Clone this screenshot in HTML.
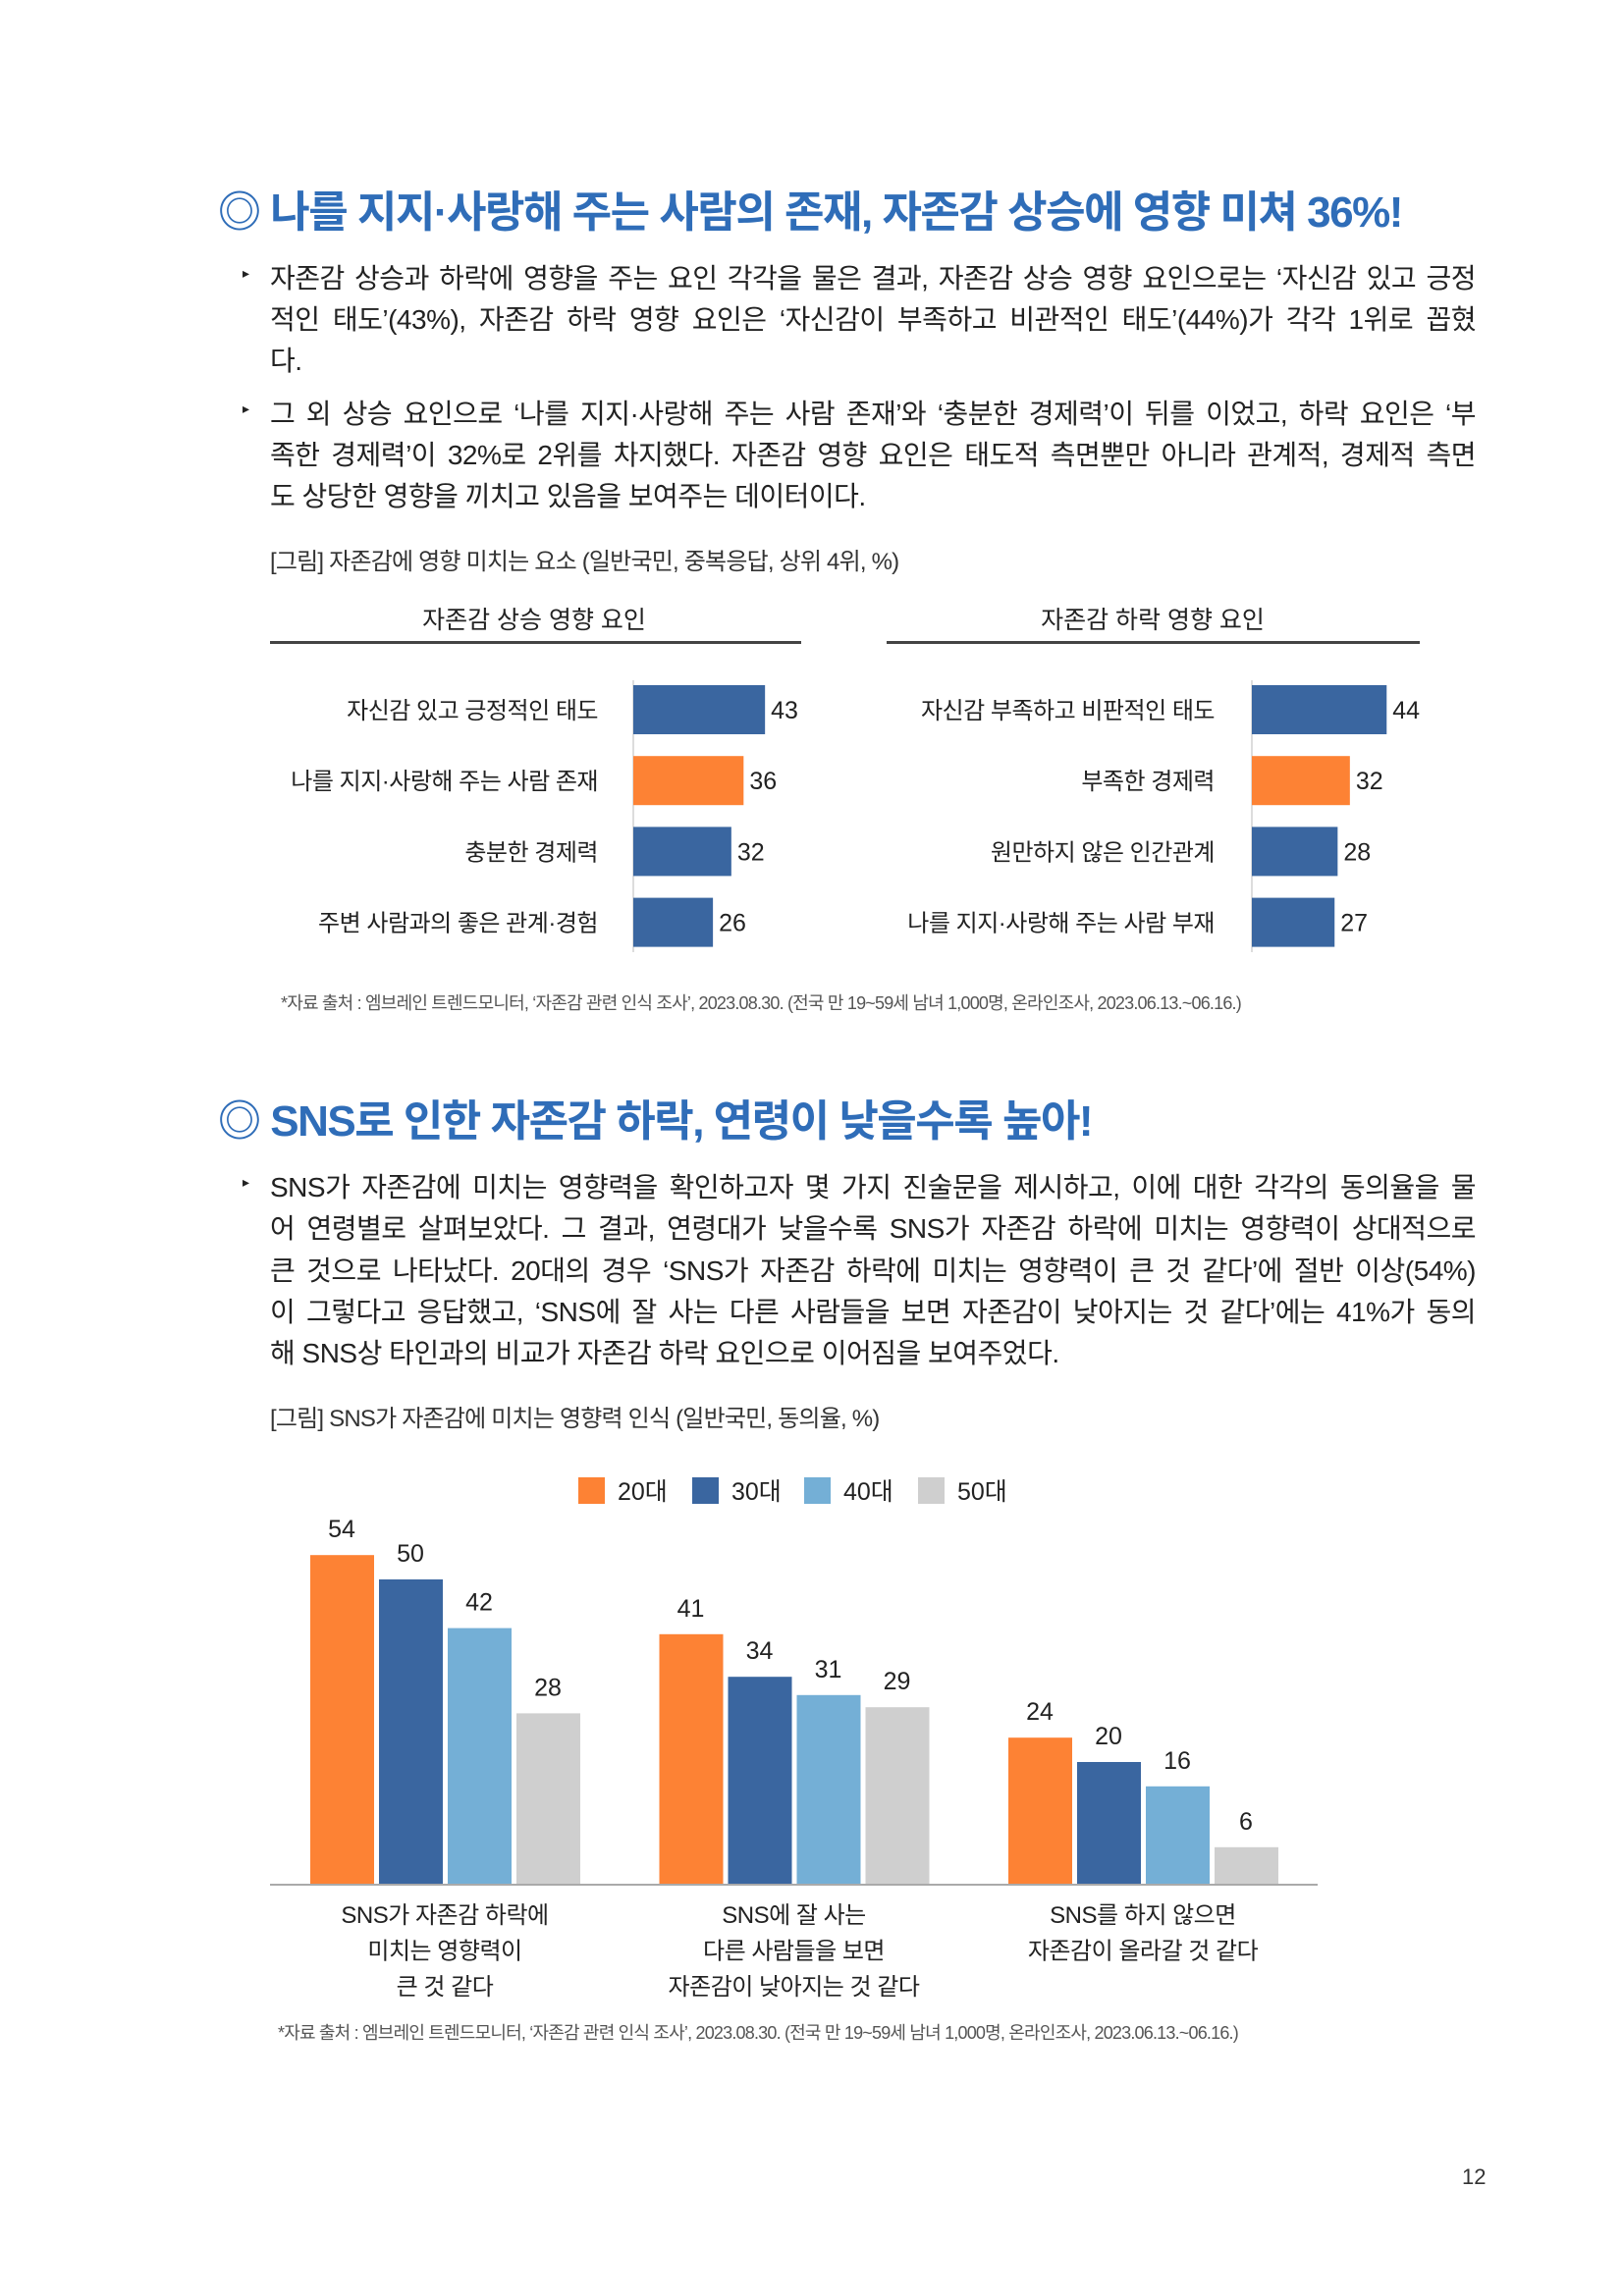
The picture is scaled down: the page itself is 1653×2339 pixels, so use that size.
<!DOCTYPE html>
<html><head><meta charset="utf-8">
<style>
body{margin:0;background:#fff;}
#page{position:relative;width:1653px;height:2339px;background:#fff;font-family:"Liberation Sans","Noto Sans CJK KR",sans-serif;color:#222;overflow:hidden;}
.t{position:absolute;white-space:nowrap;}
.title{font-size:44px;font-weight:bold;color:#2f6db8;left:222px;letter-spacing:-1.5px;}
.ln{position:absolute;left:275px;width:1228px;font-size:28px;white-space:nowrap;text-align:justify;text-align-last:justify;letter-spacing:-0.5px;}
.ln.last{text-align-last:left;}
.bul{position:absolute;left:247px;font-size:14px;}
.cap{position:absolute;left:275px;font-size:24px;letter-spacing:-0.8px;color:#333;}
.src{position:absolute;font-size:18px;color:#555;letter-spacing:-0.8px;white-space:nowrap;}
svg text{font-family:"Liberation Sans","Noto Sans CJK KR",sans-serif;}
</style></head>
<body>
<div id="page">
<div class="t title" style="top:180px">◎ 나를 지지·사랑해 주는 사람의 존재, 자존감 상승에 영향 미쳐 36%!</div>

<div class="bul" style="top:270px">▸</div>
<div class="ln" style="top:262px">자존감 상승과 하락에 영향을 주는 요인 각각을 물은 결과, 자존감 상승 영향 요인으로는 ‘자신감 있고 긍정</div>
<div class="ln" style="top:304px">적인 태도’(43%), 자존감 하락 영향 요인은 ‘자신감이 부족하고 비관적인 태도’(44%)가 각각 1위로 꼽혔</div>
<div class="ln last" style="top:346px">다.</div>
<div class="bul" style="top:408px">▸</div>
<div class="ln" style="top:400px">그 외 상승 요인으로 ‘나를 지지·사랑해 주는 사람 존재’와 ‘충분한 경제력’이 뒤를 이었고, 하락 요인은 ‘부</div>
<div class="ln" style="top:442px">족한 경제력’이 32%로 2위를 차지했다. 자존감 영향 요인은 태도적 측면뿐만 아니라 관계적, 경제적 측면</div>
<div class="ln last" style="top:484px">도 상당한 영향을 끼치고 있음을 보여주는 데이터이다.</div>
<div class="cap" style="top:552px">[그림] 자존감에 영향 미치는 요소 (일반국민, 중복응답, 상위 4위, %)</div>

<svg id="c1" style="position:absolute;left:0;top:0" width="1653" height="1100"></svg>
<div class="src" style="left:286px;top:1008px">*자료 출처 : 엠브레인 트렌드모니터, ‘자존감 관련 인식 조사’, 2023.08.30. (전국 만 19~59세 남녀 1,000명, 온라인조사, 2023.06.13.~06.16.)</div>

<div class="t title" style="top:1106px">◎ SNS로 인한 자존감 하락, 연령이 낮을수록 높아!</div>
<div class="bul" style="top:1196px">▸</div>
<div class="ln" style="top:1188px">SNS가 자존감에 미치는 영향력을 확인하고자 몇 가지 진술문을 제시하고, 이에 대한 각각의 동의율을 물</div>
<div class="ln" style="top:1230px">어 연령별로 살펴보았다. 그 결과, 연령대가 낮을수록 SNS가 자존감 하락에 미치는 영향력이 상대적으로</div>
<div class="ln" style="top:1273px">큰 것으로 나타났다. 20대의 경우 ‘SNS가 자존감 하락에 미치는 영향력이 큰 것 같다’에 절반 이상(54%)</div>
<div class="ln" style="top:1315px">이 그렇다고 응답했고, ‘SNS에 잘 사는 다른 사람들을 보면 자존감이 낮아지는 것 같다’에는 41%가 동의</div>
<div class="ln last" style="top:1357px">해 SNS상 타인과의 비교가 자존감 하락 요인으로 이어짐을 보여주었다.</div>
<div class="cap" style="top:1425px">[그림] SNS가 자존감에 미치는 영향력 인식 (일반국민, 동의율, %)</div>

<svg id="c2" style="position:absolute;left:0;top:1460px" width="1653" height="600"></svg>
<div class="src" style="left:283px;top:2057px">*자료 출처 : 엠브레인 트렌드모니터, ‘자존감 관련 인식 조사’, 2023.08.30. (전국 만 19~59세 남녀 1,000명, 온라인조사, 2023.06.13.~06.16.)</div>
<div class="t" style="left:1489px;top:2205px;font-size:22px;color:#333">12</div>
</div>

<script>
const riseLabels=["자신감 있고 긍정적인 태도","나를 지지·사랑해 주는 사람 존재","충분한 경제력","주변 사람과의 좋은 관계·경험"];
const riseValues=[43,36,32,26];
const fallLabels=["자신감 부족하고 비판적인 태도","부족한 경제력","원만하지 않은 인간관계","나를 지지·사랑해 주는 사람 부재"];
const fallValues=[44,32,28,27];
const highlightIndex=1;

const groupLines=[["SNS가 자존감 하락에","미치는 영향력이","큰 것 같다"],["SNS에 잘 사는","다른 사람들을 보면","자존감이 낮아지는 것 같다"],["SNS를 하지 않으면","자존감이 올라갈 것 같다"]];
const seriesNames=["20대","30대","40대","50대"];
const s20=[54,41,24];
const s30=[50,34,20];
const s40=[42,31,16];
const s50=[28,29,6];

const NS="http://www.w3.org/2000/svg";
function mk(svg,tag,attrs,text){const e=document.createElementNS(NS,tag);for(const k in attrs)e.setAttribute(k,attrs[k]);if(text!==undefined)e.textContent=text;svg.appendChild(e);return e;}

// chart 1
const c1=document.getElementById('c1');
function hbar(x0,labelRight,hdrX,lineX1,lineX2,title,labels,values,prefix){
  const h=mk(c1,'text',{x:hdrX,y:640,'font-size':25,'text-anchor':'middle',fill:'#222'},title);
  
  
  const l=mk(c1,'rect',{x:lineX1,y:653,width:lineX2-lineX1,height:3,fill:'#444'});
  
  
  const ax=mk(c1,'line',{x1:x0,x2:x0,y1:693,y2:970,stroke:'#bbb','stroke-width':1});
  
  
  const xs=v=>v*3.12;
  const yc=i=>723+i*72.2;
  labels.forEach((lab,i)=>{
    const t=mk(c1,'text',{x:labelRight,y:yc(i)+9,'font-size':24,'text-anchor':'end',fill:'#222','letter-spacing':'-0.5'},lab);
    
    
    const b=mk(c1,'rect',{x:x0,y:yc(i)-25,width:xs(values[i]),height:50,fill:i===highlightIndex?'#fd8234':'#3a66a0'});
    
    
    const v=mk(c1,'text',{x:x0+xs(values[i])+6,y:yc(i)+9,'font-size':25,fill:'#222'},values[i]);
    
    
  });
}
hbar(645,609,544,275,816,"자존감 상승 영향 요인",riseLabels,riseValues,'rise');
hbar(1275,1237,1174,903,1446,"자존감 하락 영향 요인",fallLabels,fallValues,'fall');

// chart 2
const c2=document.getElementById('c2');
const colors=["#fd8234","#3a66a0","#74afd6","#cfcfcf"];
const series=[s20,s30,s40,s50];
const base=459; // 1919 page
const ys=v=>v*6.2;
const gx=g=>316+g*355.5;
const legX=[589,705,819,935];
seriesNames.forEach((n,i)=>{
  const r=mk(c2,'rect',{x:legX[i],y:45,width:27,height:27,fill:colors[i]});
  
  
  const t=mk(c2,'text',{x:legX[i]+40,y:68,'font-size':25,fill:'#222'},n);
  
  
});
const bl=mk(c2,'line',{x1:275,x2:1342,y1:base+1,y2:base+1,stroke:'#aaa','stroke-width':2});


groupLines.forEach((lines,g)=>{
  series.forEach((s,i)=>{
    const x=gx(g)+i*70;
    const b=mk(c2,'rect',{x:x,y:base-ys(s[g]),width:65,height:ys(s[g]),fill:colors[i]});
    
    
    const v=mk(c2,'text',{x:x+32,y:base-ys(s[g])-18,'font-size':25,'text-anchor':'middle',fill:'#222'},s[g]);
    
    
  });
  const cx=gx(g)+137;
  lines.forEach((ln,k)=>{
    const t=mk(c2,'text',{x:cx,y:499+k*36.5,'font-size':24,'text-anchor':'middle',fill:'#222','letter-spacing':'-0.5'},ln);
    
    
  });
});
</script>
</body></html>
